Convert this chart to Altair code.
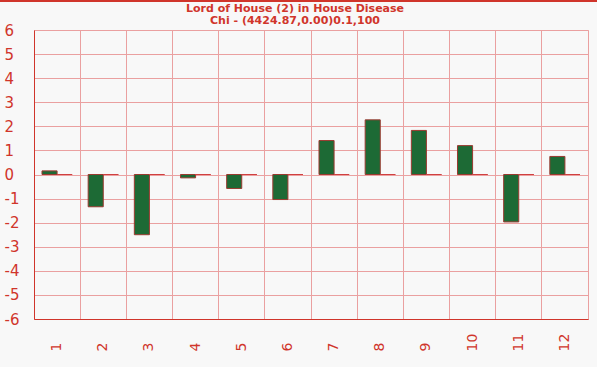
import altair as alt
import pandas as pd

houses = ["1", "2", "3", "4", "5", "6", "7", "8", "9", "10", "11", "12"]
values_a = [0.15, -1.34, -2.5, -0.14, -0.58, -1.04, 1.41, 2.27, 1.83, 1.2, -1.97, 0.75]
values_b = [0, 0, 0, 0, 0, 0, 0, 0, 0, 0, 0, 0]
series_names = ["A", "B"]
y_ticks = [-6, -5, -4, -3, -2, -1, 0, 1, 2, 3, 4, 5, 6]
title_lines = ["Lord of House (2)  in House Disease", "Chi - (4424.87,0.00)0.1,100"]

rows = []
for h, a, b in zip(houses, values_a, values_b):
    rows.append({"house": h, "series": series_names[0], "value": a})
    rows.append({"house": h, "series": series_names[1], "value": b})
df = pd.DataFrame(rows)

RED = "#d0352b"
GRID = "#eaa0a0"

bars = alt.Chart(df).mark_bar(strokeWidth=1).encode(
    x=alt.X("house:N", sort=houses, title=None,
            scale=alt.Scale(paddingInner=0, paddingOuter=0),
            axis=alt.Axis(labelAngle=270, labelAlign="left", labelBaseline="middle",
                          labelPadding=32, tickSize=0, labelColor=RED, labelFontSize=14,
                          labelFont="DejaVu Sans", grid=True, bandPosition=0,
                          gridColor=GRID, domainColor=RED, labelFontWeight="normal")),
    xOffset=alt.XOffset("series:N", sort=series_names,
                        scale=alt.Scale(paddingOuter=0.53, paddingInner=0)),
    y=alt.Y("value:Q", title=None,
            scale=alt.Scale(domain=[-6, 6], nice=False),
            axis=alt.Axis(values=y_ticks, labelAlign="left", labelPadding=30, tickSize=0,
                          labelColor=RED, labelFontSize=15, labelFont="DejaVu Sans",
                          gridColor=GRID, domainColor=RED,
                          labelExpr="toString(datum.value)")),
    fill=alt.Fill("series:N", scale=alt.Scale(domain=series_names, range=["#1d6a35", "#d04040"]),
                  legend=None),
    stroke=alt.Stroke("series:N", scale=alt.Scale(domain=series_names, range=["#9a3a30", "#d04040"]),
                      legend=None),
)

top_line = alt.Chart(df).mark_rule(color=RED, strokeWidth=2).encode(
    x=alt.value(-34), x2=alt.value(563), y=alt.value(-29)
)

chart = alt.layer(bars, top_line).properties(
    width=554, height=289,
    autosize=alt.AutoSizeParams(type="none"),
    padding={"left": 34, "top": 30, "right": 9, "bottom": 48},
    background="#f8f8f8",
    title=alt.TitleParams(title_lines, color=RED, fontSize=11, font="DejaVu Sans",
                          fontWeight="bold", anchor="middle", offset=5, dx=-16, dy=31,
                          lineHeight=12),
).configure_view(stroke=GRID)

chart.save("out.html", embed_options={"renderer": "svg", "actions": False})
